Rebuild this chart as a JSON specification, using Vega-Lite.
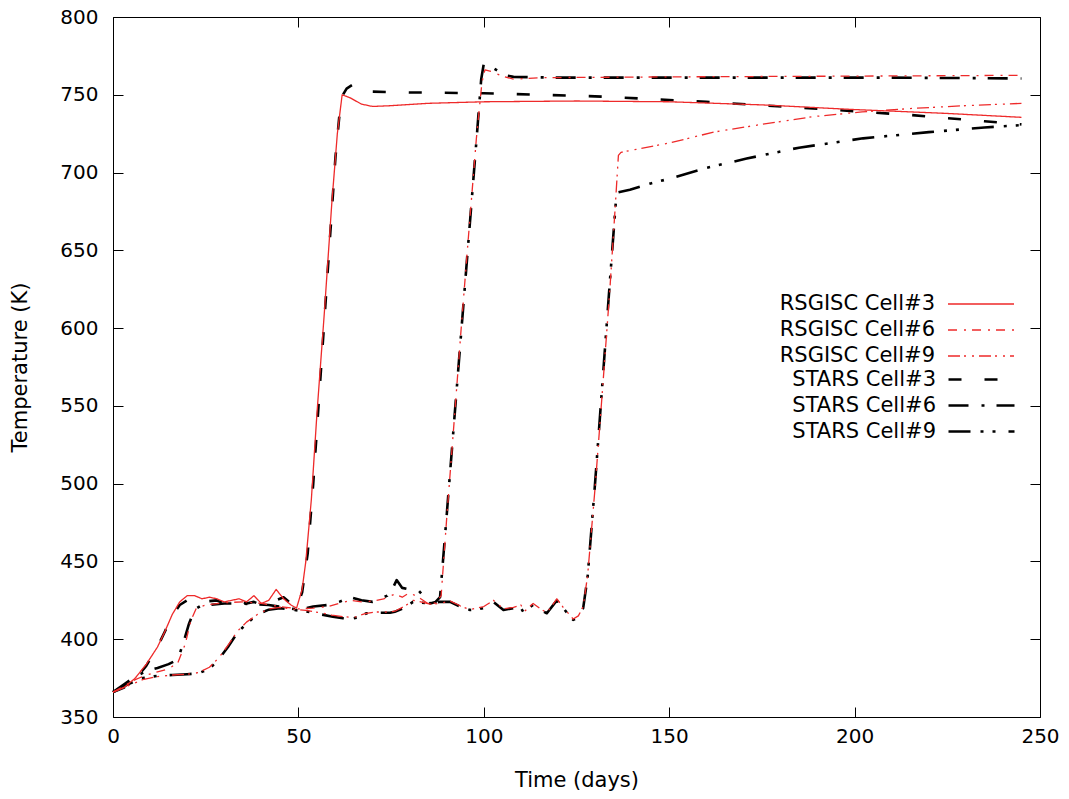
{
  "$schema": "https://vega.github.io/schema/vega-lite/v6.json",
  "width": 927,
  "height": 700,
  "autosize": "none",
  "padding": {"left": 113, "top": 17, "right": 29, "bottom": 82},
  "background": "white",
  "config": {
    "view": {"stroke": "black", "strokeWidth": 1},
    "font": "DejaVu Sans",
    "axis": {"grid": false, "domain": false, "labelFlush": false, "labelFont": "DejaVu Sans", "titleFont": "DejaVu Sans", "labelColor": "black", "titleColor": "black", "tickColor": "black", "titleFontWeight": "normal"},
    "legend": {"orient": "none", "title": null, "labelFont": "DejaVu Sans", "labelFontSize": 21, "labelColor": "black", "labelAlign": "right", "labelOffset": -58, "rowPadding": 4, "symbolOffset": 0, "padding": 0, "symbolType": "M-3,0H3", "symbolSize": 484}
  },
  "datasets": {
    "curves": [
      {"series": "STARS Cell#3", "day": 0, "temp": 366}, {"series": "STARS Cell#3", "day": 3, "temp": 369}, {"series": "STARS Cell#3", "day": 6, "temp": 374}, {"series": "STARS Cell#3", "day": 9, "temp": 383}, {"series": "STARS Cell#3", "day": 12, "temp": 395}, {"series": "STARS Cell#3", "day": 14, "temp": 405}, {"series": "STARS Cell#3", "day": 16, "temp": 415}, {"series": "STARS Cell#3", "day": 18, "temp": 422}, {"series": "STARS Cell#3", "day": 20, "temp": 425}, {"series": "STARS Cell#3", "day": 22, "temp": 425}, {"series": "STARS Cell#3", "day": 24, "temp": 424}, {"series": "STARS Cell#3", "day": 26, "temp": 424.5}, {"series": "STARS Cell#3", "day": 28, "temp": 425}, {"series": "STARS Cell#3", "day": 30, "temp": 423}, {"series": "STARS Cell#3", "day": 32, "temp": 424}, {"series": "STARS Cell#3", "day": 34, "temp": 425}, {"series": "STARS Cell#3", "day": 36, "temp": 423}, {"series": "STARS Cell#3", "day": 38, "temp": 424}, {"series": "STARS Cell#3", "day": 40, "temp": 422}, {"series": "STARS Cell#3", "day": 42, "temp": 424}, {"series": "STARS Cell#3", "day": 44, "temp": 425}, {"series": "STARS Cell#3", "day": 46, "temp": 427}, {"series": "STARS Cell#3", "day": 48, "temp": 423}, {"series": "STARS Cell#3", "day": 49.5, "temp": 420}, {"series": "STARS Cell#3", "day": 51, "temp": 430}, {"series": "STARS Cell#3", "day": 52.5, "temp": 455}, {"series": "STARS Cell#3", "day": 54, "temp": 500}, {"series": "STARS Cell#3", "day": 56, "temp": 570}, {"series": "STARS Cell#3", "day": 58, "temp": 640}, {"series": "STARS Cell#3", "day": 60, "temp": 710}, {"series": "STARS Cell#3", "day": 61.5, "temp": 748}, {"series": "STARS Cell#3", "day": 63, "temp": 754}, {"series": "STARS Cell#3", "day": 65, "temp": 757}, {"series": "STARS Cell#3", "day": 67, "temp": 754}, {"series": "STARS Cell#3", "day": 70, "temp": 752}, {"series": "STARS Cell#3", "day": 80, "temp": 751.5}, {"series": "STARS Cell#3", "day": 100, "temp": 751}, {"series": "STARS Cell#3", "day": 130, "temp": 749}, {"series": "STARS Cell#3", "day": 160, "temp": 745.5}, {"series": "STARS Cell#3", "day": 190, "temp": 741}, {"series": "STARS Cell#3", "day": 215, "temp": 737}, {"series": "STARS Cell#3", "day": 235, "temp": 733}, {"series": "STARS Cell#3", "day": 245, "temp": 731},

      {"series": "STARS Cell#6", "day": 0, "temp": 366}, {"series": "STARS Cell#6", "day": 3, "temp": 371}, {"series": "STARS Cell#6", "day": 6, "temp": 376}, {"series": "STARS Cell#6", "day": 9, "temp": 379.5}, {"series": "STARS Cell#6", "day": 12, "temp": 381.5}, {"series": "STARS Cell#6", "day": 15, "temp": 384}, {"series": "STARS Cell#6", "day": 17.5, "temp": 387}, {"series": "STARS Cell#6", "day": 19, "temp": 398}, {"series": "STARS Cell#6", "day": 20.5, "temp": 410}, {"series": "STARS Cell#6", "day": 22, "temp": 419}, {"series": "STARS Cell#6", "day": 24, "temp": 422}, {"series": "STARS Cell#6", "day": 26, "temp": 422}, {"series": "STARS Cell#6", "day": 30, "temp": 423}, {"series": "STARS Cell#6", "day": 34, "temp": 423}, {"series": "STARS Cell#6", "day": 38, "temp": 422.5}, {"series": "STARS Cell#6", "day": 42, "temp": 422}, {"series": "STARS Cell#6", "day": 46, "temp": 420.5}, {"series": "STARS Cell#6", "day": 50, "temp": 419}, {"series": "STARS Cell#6", "day": 54, "temp": 421}, {"series": "STARS Cell#6", "day": 58, "temp": 422}, {"series": "STARS Cell#6", "day": 61, "temp": 424}, {"series": "STARS Cell#6", "day": 64, "temp": 427}, {"series": "STARS Cell#6", "day": 67, "temp": 425}, {"series": "STARS Cell#6", "day": 70, "temp": 424}, {"series": "STARS Cell#6", "day": 72, "temp": 426}, {"series": "STARS Cell#6", "day": 74, "temp": 428}, {"series": "STARS Cell#6", "day": 75.5, "temp": 433}, {"series": "STARS Cell#6", "day": 76.5, "temp": 438}, {"series": "STARS Cell#6", "day": 78, "temp": 433}, {"series": "STARS Cell#6", "day": 80, "temp": 432}, {"series": "STARS Cell#6", "day": 82.5, "temp": 431}, {"series": "STARS Cell#6", "day": 85.5, "temp": 423}, {"series": "STARS Cell#6", "day": 87, "temp": 424}, {"series": "STARS Cell#6", "day": 88.2, "temp": 427}, {"series": "STARS Cell#6", "day": 90, "temp": 480}, {"series": "STARS Cell#6", "day": 92, "temp": 540}, {"series": "STARS Cell#6", "day": 94, "temp": 600}, {"series": "STARS Cell#6", "day": 96, "temp": 660}, {"series": "STARS Cell#6", "day": 98, "temp": 720}, {"series": "STARS Cell#6", "day": 99.3, "temp": 760}, {"series": "STARS Cell#6", "day": 100, "temp": 770}, {"series": "STARS Cell#6", "day": 102, "temp": 768}, {"series": "STARS Cell#6", "day": 104, "temp": 765}, {"series": "STARS Cell#6", "day": 106, "temp": 762.5}, {"series": "STARS Cell#6", "day": 108, "temp": 761.5}, {"series": "STARS Cell#6", "day": 120, "temp": 761}, {"series": "STARS Cell#6", "day": 150, "temp": 761}, {"series": "STARS Cell#6", "day": 180, "temp": 761}, {"series": "STARS Cell#6", "day": 210, "temp": 761}, {"series": "STARS Cell#6", "day": 245, "temp": 760.5},

      {"series": "STARS Cell#9", "day": 0, "temp": 366}, {"series": "STARS Cell#9", "day": 4, "temp": 371}, {"series": "STARS Cell#9", "day": 8, "temp": 375}, {"series": "STARS Cell#9", "day": 12, "temp": 376.5}, {"series": "STARS Cell#9", "day": 16, "temp": 377}, {"series": "STARS Cell#9", "day": 20, "temp": 377.5}, {"series": "STARS Cell#9", "day": 23, "temp": 378}, {"series": "STARS Cell#9", "day": 26, "temp": 381}, {"series": "STARS Cell#9", "day": 28.5, "temp": 387}, {"series": "STARS Cell#9", "day": 31, "temp": 395}, {"series": "STARS Cell#9", "day": 33.5, "temp": 404}, {"series": "STARS Cell#9", "day": 36, "temp": 410}, {"series": "STARS Cell#9", "day": 39, "temp": 416}, {"series": "STARS Cell#9", "day": 42, "temp": 419}, {"series": "STARS Cell#9", "day": 45, "temp": 420}, {"series": "STARS Cell#9", "day": 48, "temp": 419}, {"series": "STARS Cell#9", "day": 52, "temp": 418}, {"series": "STARS Cell#9", "day": 56, "temp": 416}, {"series": "STARS Cell#9", "day": 59.3, "temp": 414.5}, {"series": "STARS Cell#9", "day": 62, "temp": 413.5}, {"series": "STARS Cell#9", "day": 64.7, "temp": 413.4}, {"series": "STARS Cell#9", "day": 66, "temp": 414}, {"series": "STARS Cell#9", "day": 68.4, "temp": 416.7}, {"series": "STARS Cell#9", "day": 71, "temp": 417}, {"series": "STARS Cell#9", "day": 74.7, "temp": 417}, {"series": "STARS Cell#9", "day": 76, "temp": 417.7}, {"series": "STARS Cell#9", "day": 78.5, "temp": 420}, {"series": "STARS Cell#9", "day": 80.9, "temp": 424}, {"series": "STARS Cell#9", "day": 83, "temp": 423.5}, {"series": "STARS Cell#9", "day": 85.5, "temp": 423}, {"series": "STARS Cell#9", "day": 88, "temp": 424}, {"series": "STARS Cell#9", "day": 90.9, "temp": 424}, {"series": "STARS Cell#9", "day": 93.6, "temp": 421}, {"series": "STARS Cell#9", "day": 96.3, "temp": 418.8}, {"series": "STARS Cell#9", "day": 98, "temp": 419}, {"series": "STARS Cell#9", "day": 99.9, "temp": 420}, {"series": "STARS Cell#9", "day": 102.6, "temp": 424}, {"series": "STARS Cell#9", "day": 105.3, "temp": 418.8}, {"series": "STARS Cell#9", "day": 108, "temp": 420}, {"series": "STARS Cell#9", "day": 109.8, "temp": 421}, {"series": "STARS Cell#9", "day": 110.6, "temp": 417.7}, {"series": "STARS Cell#9", "day": 113.3, "temp": 422}, {"series": "STARS Cell#9", "day": 115, "temp": 419}, {"series": "STARS Cell#9", "day": 117, "temp": 416.7}, {"series": "STARS Cell#9", "day": 119.7, "temp": 425}, {"series": "STARS Cell#9", "day": 121.4, "temp": 420}, {"series": "STARS Cell#9", "day": 124.1, "temp": 412.4}, {"series": "STARS Cell#9", "day": 125.5, "temp": 414}, {"series": "STARS Cell#9", "day": 126.8, "temp": 420}, {"series": "STARS Cell#9", "day": 128, "temp": 440}, {"series": "STARS Cell#9", "day": 130, "temp": 500}, {"series": "STARS Cell#9", "day": 132, "temp": 565}, {"series": "STARS Cell#9", "day": 134, "temp": 630}, {"series": "STARS Cell#9", "day": 135.8, "temp": 687}, {"series": "STARS Cell#9", "day": 139.4, "temp": 689}, {"series": "STARS Cell#9", "day": 145, "temp": 693}, {"series": "STARS Cell#9", "day": 150, "temp": 696}, {"series": "STARS Cell#9", "day": 160, "temp": 703}, {"series": "STARS Cell#9", "day": 170.9, "temp": 709}, {"series": "STARS Cell#9", "day": 185, "temp": 716}, {"series": "STARS Cell#9", "day": 202.3, "temp": 722}, {"series": "STARS Cell#9", "day": 220, "temp": 726}, {"series": "STARS Cell#9", "day": 235, "temp": 729}, {"series": "STARS Cell#9", "day": 245, "temp": 730.5},

      {"series": "RSGISC Cell#3", "day": 0, "temp": 366}, {"series": "RSGISC Cell#3", "day": 3, "temp": 369}, {"series": "RSGISC Cell#3", "day": 6, "temp": 375}, {"series": "RSGISC Cell#3", "day": 9, "temp": 384}, {"series": "RSGISC Cell#3", "day": 12, "temp": 395}, {"series": "RSGISC Cell#3", "day": 14, "temp": 405}, {"series": "RSGISC Cell#3", "day": 16, "temp": 416}, {"series": "RSGISC Cell#3", "day": 18, "temp": 424}, {"series": "RSGISC Cell#3", "day": 20, "temp": 428}, {"series": "RSGISC Cell#3", "day": 22, "temp": 428}, {"series": "RSGISC Cell#3", "day": 24, "temp": 426}, {"series": "RSGISC Cell#3", "day": 26, "temp": 427}, {"series": "RSGISC Cell#3", "day": 28, "temp": 426}, {"series": "RSGISC Cell#3", "day": 30, "temp": 424}, {"series": "RSGISC Cell#3", "day": 32, "temp": 425}, {"series": "RSGISC Cell#3", "day": 34, "temp": 426}, {"series": "RSGISC Cell#3", "day": 36, "temp": 424}, {"series": "RSGISC Cell#3", "day": 38, "temp": 428}, {"series": "RSGISC Cell#3", "day": 40, "temp": 423}, {"series": "RSGISC Cell#3", "day": 42, "temp": 425}, {"series": "RSGISC Cell#3", "day": 44, "temp": 432}, {"series": "RSGISC Cell#3", "day": 46, "temp": 426}, {"series": "RSGISC Cell#3", "day": 48, "temp": 422}, {"series": "RSGISC Cell#3", "day": 49.5, "temp": 420}, {"series": "RSGISC Cell#3", "day": 51, "temp": 432}, {"series": "RSGISC Cell#3", "day": 52, "temp": 450}, {"series": "RSGISC Cell#3", "day": 53.5, "temp": 490}, {"series": "RSGISC Cell#3", "day": 55, "temp": 545}, {"series": "RSGISC Cell#3", "day": 57, "temp": 610}, {"series": "RSGISC Cell#3", "day": 59, "temp": 680}, {"series": "RSGISC Cell#3", "day": 60.5, "temp": 725}, {"series": "RSGISC Cell#3", "day": 61.8, "temp": 750}, {"series": "RSGISC Cell#3", "day": 64, "temp": 748}, {"series": "RSGISC Cell#3", "day": 67, "temp": 744}, {"series": "RSGISC Cell#3", "day": 70, "temp": 742.5}, {"series": "RSGISC Cell#3", "day": 75, "temp": 743}, {"series": "RSGISC Cell#3", "day": 85, "temp": 744.5}, {"series": "RSGISC Cell#3", "day": 100, "temp": 745.5}, {"series": "RSGISC Cell#3", "day": 125, "temp": 746}, {"series": "RSGISC Cell#3", "day": 150, "temp": 745.5}, {"series": "RSGISC Cell#3", "day": 175, "temp": 743.5}, {"series": "RSGISC Cell#3", "day": 200, "temp": 740.5}, {"series": "RSGISC Cell#3", "day": 225, "temp": 738}, {"series": "RSGISC Cell#3", "day": 245, "temp": 735.5},

      {"series": "RSGISC Cell#6", "day": 0, "temp": 366}, {"series": "RSGISC Cell#6", "day": 3, "temp": 370}, {"series": "RSGISC Cell#6", "day": 6, "temp": 374}, {"series": "RSGISC Cell#6", "day": 9, "temp": 377}, {"series": "RSGISC Cell#6", "day": 12, "temp": 379}, {"series": "RSGISC Cell#6", "day": 15, "temp": 381}, {"series": "RSGISC Cell#6", "day": 17.5, "temp": 385}, {"series": "RSGISC Cell#6", "day": 19.5, "temp": 397}, {"series": "RSGISC Cell#6", "day": 21, "temp": 412}, {"series": "RSGISC Cell#6", "day": 22.5, "temp": 420}, {"series": "RSGISC Cell#6", "day": 25, "temp": 422}, {"series": "RSGISC Cell#6", "day": 30, "temp": 423.5}, {"series": "RSGISC Cell#6", "day": 35, "temp": 424}, {"series": "RSGISC Cell#6", "day": 40, "temp": 423}, {"series": "RSGISC Cell#6", "day": 45, "temp": 421}, {"series": "RSGISC Cell#6", "day": 50, "temp": 419.5}, {"series": "RSGISC Cell#6", "day": 54, "temp": 420}, {"series": "RSGISC Cell#6", "day": 58, "temp": 421}, {"series": "RSGISC Cell#6", "day": 61, "temp": 423}, {"series": "RSGISC Cell#6", "day": 64, "temp": 425}, {"series": "RSGISC Cell#6", "day": 67, "temp": 424}, {"series": "RSGISC Cell#6", "day": 70, "temp": 424.5}, {"series": "RSGISC Cell#6", "day": 73, "temp": 426}, {"series": "RSGISC Cell#6", "day": 76, "temp": 429}, {"series": "RSGISC Cell#6", "day": 78, "temp": 427}, {"series": "RSGISC Cell#6", "day": 80, "temp": 430}, {"series": "RSGISC Cell#6", "day": 83, "temp": 426}, {"series": "RSGISC Cell#6", "day": 85.5, "temp": 422}, {"series": "RSGISC Cell#6", "day": 87, "temp": 423.5}, {"series": "RSGISC Cell#6", "day": 88.5, "temp": 428}, {"series": "RSGISC Cell#6", "day": 90, "temp": 478}, {"series": "RSGISC Cell#6", "day": 92, "temp": 540}, {"series": "RSGISC Cell#6", "day": 94, "temp": 603}, {"series": "RSGISC Cell#6", "day": 96, "temp": 663}, {"series": "RSGISC Cell#6", "day": 98, "temp": 722}, {"series": "RSGISC Cell#6", "day": 99.5, "temp": 758}, {"series": "RSGISC Cell#6", "day": 100.3, "temp": 766}, {"series": "RSGISC Cell#6", "day": 102, "temp": 765}, {"series": "RSGISC Cell#6", "day": 105, "temp": 762}, {"series": "RSGISC Cell#6", "day": 108, "temp": 760}, {"series": "RSGISC Cell#6", "day": 115, "temp": 761}, {"series": "RSGISC Cell#6", "day": 150, "temp": 761.5}, {"series": "RSGISC Cell#6", "day": 200, "temp": 762}, {"series": "RSGISC Cell#6", "day": 245, "temp": 762.5},

      {"series": "RSGISC Cell#9", "day": 0, "temp": 366}, {"series": "RSGISC Cell#9", "day": 4, "temp": 370}, {"series": "RSGISC Cell#9", "day": 8, "temp": 374}, {"series": "RSGISC Cell#9", "day": 12, "temp": 376}, {"series": "RSGISC Cell#9", "day": 16, "temp": 377}, {"series": "RSGISC Cell#9", "day": 20, "temp": 377.5}, {"series": "RSGISC Cell#9", "day": 23, "temp": 378.5}, {"series": "RSGISC Cell#9", "day": 26, "temp": 382}, {"series": "RSGISC Cell#9", "day": 28.5, "temp": 388}, {"series": "RSGISC Cell#9", "day": 31, "temp": 396}, {"series": "RSGISC Cell#9", "day": 33.5, "temp": 405}, {"series": "RSGISC Cell#9", "day": 36, "temp": 411}, {"series": "RSGISC Cell#9", "day": 39, "temp": 416}, {"series": "RSGISC Cell#9", "day": 42, "temp": 419.5}, {"series": "RSGISC Cell#9", "day": 45, "temp": 420.5}, {"series": "RSGISC Cell#9", "day": 48, "temp": 419.5}, {"series": "RSGISC Cell#9", "day": 52, "temp": 418.5}, {"series": "RSGISC Cell#9", "day": 56, "temp": 417}, {"series": "RSGISC Cell#9", "day": 59, "temp": 415.5}, {"series": "RSGISC Cell#9", "day": 62, "temp": 414.5}, {"series": "RSGISC Cell#9", "day": 65, "temp": 414}, {"series": "RSGISC Cell#9", "day": 68, "temp": 416.5}, {"series": "RSGISC Cell#9", "day": 71, "temp": 417.5}, {"series": "RSGISC Cell#9", "day": 74.5, "temp": 417.5}, {"series": "RSGISC Cell#9", "day": 76, "temp": 418}, {"series": "RSGISC Cell#9", "day": 78.5, "temp": 421}, {"series": "RSGISC Cell#9", "day": 81, "temp": 425}, {"series": "RSGISC Cell#9", "day": 83, "temp": 424}, {"series": "RSGISC Cell#9", "day": 85.5, "temp": 422.5}, {"series": "RSGISC Cell#9", "day": 88, "temp": 423}, {"series": "RSGISC Cell#9", "day": 91, "temp": 424.5}, {"series": "RSGISC Cell#9", "day": 93.6, "temp": 421.5}, {"series": "RSGISC Cell#9", "day": 96.3, "temp": 419}, {"series": "RSGISC Cell#9", "day": 98, "temp": 420}, {"series": "RSGISC Cell#9", "day": 100, "temp": 421}, {"series": "RSGISC Cell#9", "day": 102.6, "temp": 425}, {"series": "RSGISC Cell#9", "day": 105.3, "temp": 419.5}, {"series": "RSGISC Cell#9", "day": 108, "temp": 420.5}, {"series": "RSGISC Cell#9", "day": 110, "temp": 422}, {"series": "RSGISC Cell#9", "day": 111, "temp": 418}, {"series": "RSGISC Cell#9", "day": 113.3, "temp": 423}, {"series": "RSGISC Cell#9", "day": 115, "temp": 420}, {"series": "RSGISC Cell#9", "day": 117, "temp": 417}, {"series": "RSGISC Cell#9", "day": 119.7, "temp": 426}, {"series": "RSGISC Cell#9", "day": 121.4, "temp": 420.5}, {"series": "RSGISC Cell#9", "day": 124.1, "temp": 413}, {"series": "RSGISC Cell#9", "day": 125.5, "temp": 415}, {"series": "RSGISC Cell#9", "day": 126.8, "temp": 421}, {"series": "RSGISC Cell#9", "day": 128, "temp": 441}, {"series": "RSGISC Cell#9", "day": 130, "temp": 497}, {"series": "RSGISC Cell#9", "day": 132, "temp": 560}, {"series": "RSGISC Cell#9", "day": 134, "temp": 625}, {"series": "RSGISC Cell#9", "day": 135.5, "temp": 680}, {"series": "RSGISC Cell#9", "day": 136.3, "temp": 711}, {"series": "RSGISC Cell#9", "day": 137, "temp": 713}, {"series": "RSGISC Cell#9", "day": 150, "temp": 719}, {"series": "RSGISC Cell#9", "day": 162, "temp": 726}, {"series": "RSGISC Cell#9", "day": 175, "temp": 731}, {"series": "RSGISC Cell#9", "day": 189, "temp": 736}, {"series": "RSGISC Cell#9", "day": 202, "temp": 739}, {"series": "RSGISC Cell#9", "day": 216, "temp": 741.3}, {"series": "RSGISC Cell#9", "day": 230, "temp": 743}, {"series": "RSGISC Cell#9", "day": 245, "temp": 744.5}
    ]
  },
  "data": {"name": "curves"},
  "resolve": {"axis": {"x": "independent", "y": "independent"}, "scale": {"color": "independent", "strokeDash": "independent"}, "legend": {"color": "independent", "strokeDash": "independent"}},
  "layer": [
    {
      "transform": [{"filter": "indexof(datum.series, 'STARS') === 0"}],
      "mark": {"type": "line", "strokeCap": "butt", "strokeJoin": "round", "strokeWidth": 2.6},
      "encoding": {
        "x": {"field": "day", "type": "quantitative", "scale": {"domain": [0, 250], "nice": false, "zero": false},
          "axis": {"orient": "bottom", "values": [0, 50, 100, 150, 200, 250], "title": "Time (days)", "tickSize": -10, "labelFontSize": 20, "labelPadding": 19, "titleFontSize": 21, "titlePadding": 23}},
        "y": {"field": "temp", "type": "quantitative", "scale": {"domain": [350, 800], "nice": false, "zero": false},
          "axis": {"orient": "left", "values": [350, 400, 450, 500, 550, 600, 650, 700, 750, 800], "title": "Temperature (K)", "tickSize": -10, "labelFontSize": 20, "labelPadding": 25, "titleFontSize": 21, "titlePadding": 29}},
        "color": {"field": "series", "type": "nominal",
          "scale": {"domain": ["STARS Cell#3", "STARS Cell#6", "STARS Cell#9"], "range": ["#000000", "#000000", "#000000"]},
          "legend": {"legendX": 856, "legendY": 350, "rowPadding": 3, "symbolStrokeWidth": 2.6}},
        "strokeDash": {"field": "series", "type": "nominal",
          "scale": {"domain": ["STARS Cell#3", "STARS Cell#6", "STARS Cell#9"], "range": [[13, 23], [20, 13, 3, 12], [22, 10, 3, 9, 3, 13]]},
          "legend": {"legendX": 856, "legendY": 350, "rowPadding": 3, "symbolStrokeWidth": 2.6}}
      }
    },
    {
      "transform": [{"filter": "indexof(datum.series, 'RSGISC') === 0"}],
      "mark": {"type": "line", "strokeCap": "butt", "strokeJoin": "round", "strokeWidth": 1.3},
      "encoding": {
        "x": {"field": "day", "type": "quantitative",
          "axis": {"orient": "top", "values": [0, 50, 100, 150, 200, 250], "title": null, "labels": false, "tickSize": -10}},
        "y": {"field": "temp", "type": "quantitative",
          "axis": {"orient": "right", "values": [350, 400, 450, 500, 550, 600, 650, 700, 750, 800], "title": null, "labels": false, "tickSize": -10}},
        "color": {"field": "series", "type": "nominal",
          "scale": {"domain": ["RSGISC Cell#3", "RSGISC Cell#6", "RSGISC Cell#9"], "range": ["#ee2a2a", "#ee2a2a", "#ee2a2a"]},
          "legend": {"legendX": 856, "legendY": 275, "symbolStrokeWidth": 1.3}},
        "strokeDash": {"field": "series", "type": "nominal",
          "scale": {"domain": ["RSGISC Cell#3", "RSGISC Cell#6", "RSGISC Cell#9"], "range": [[1, 0], [9, 7, 2, 6], [12, 4, 2, 6, 2, 5]]},
          "legend": {"legendX": 856, "legendY": 275, "symbolStrokeWidth": 1.3}}
      }
    }
  ]
}
